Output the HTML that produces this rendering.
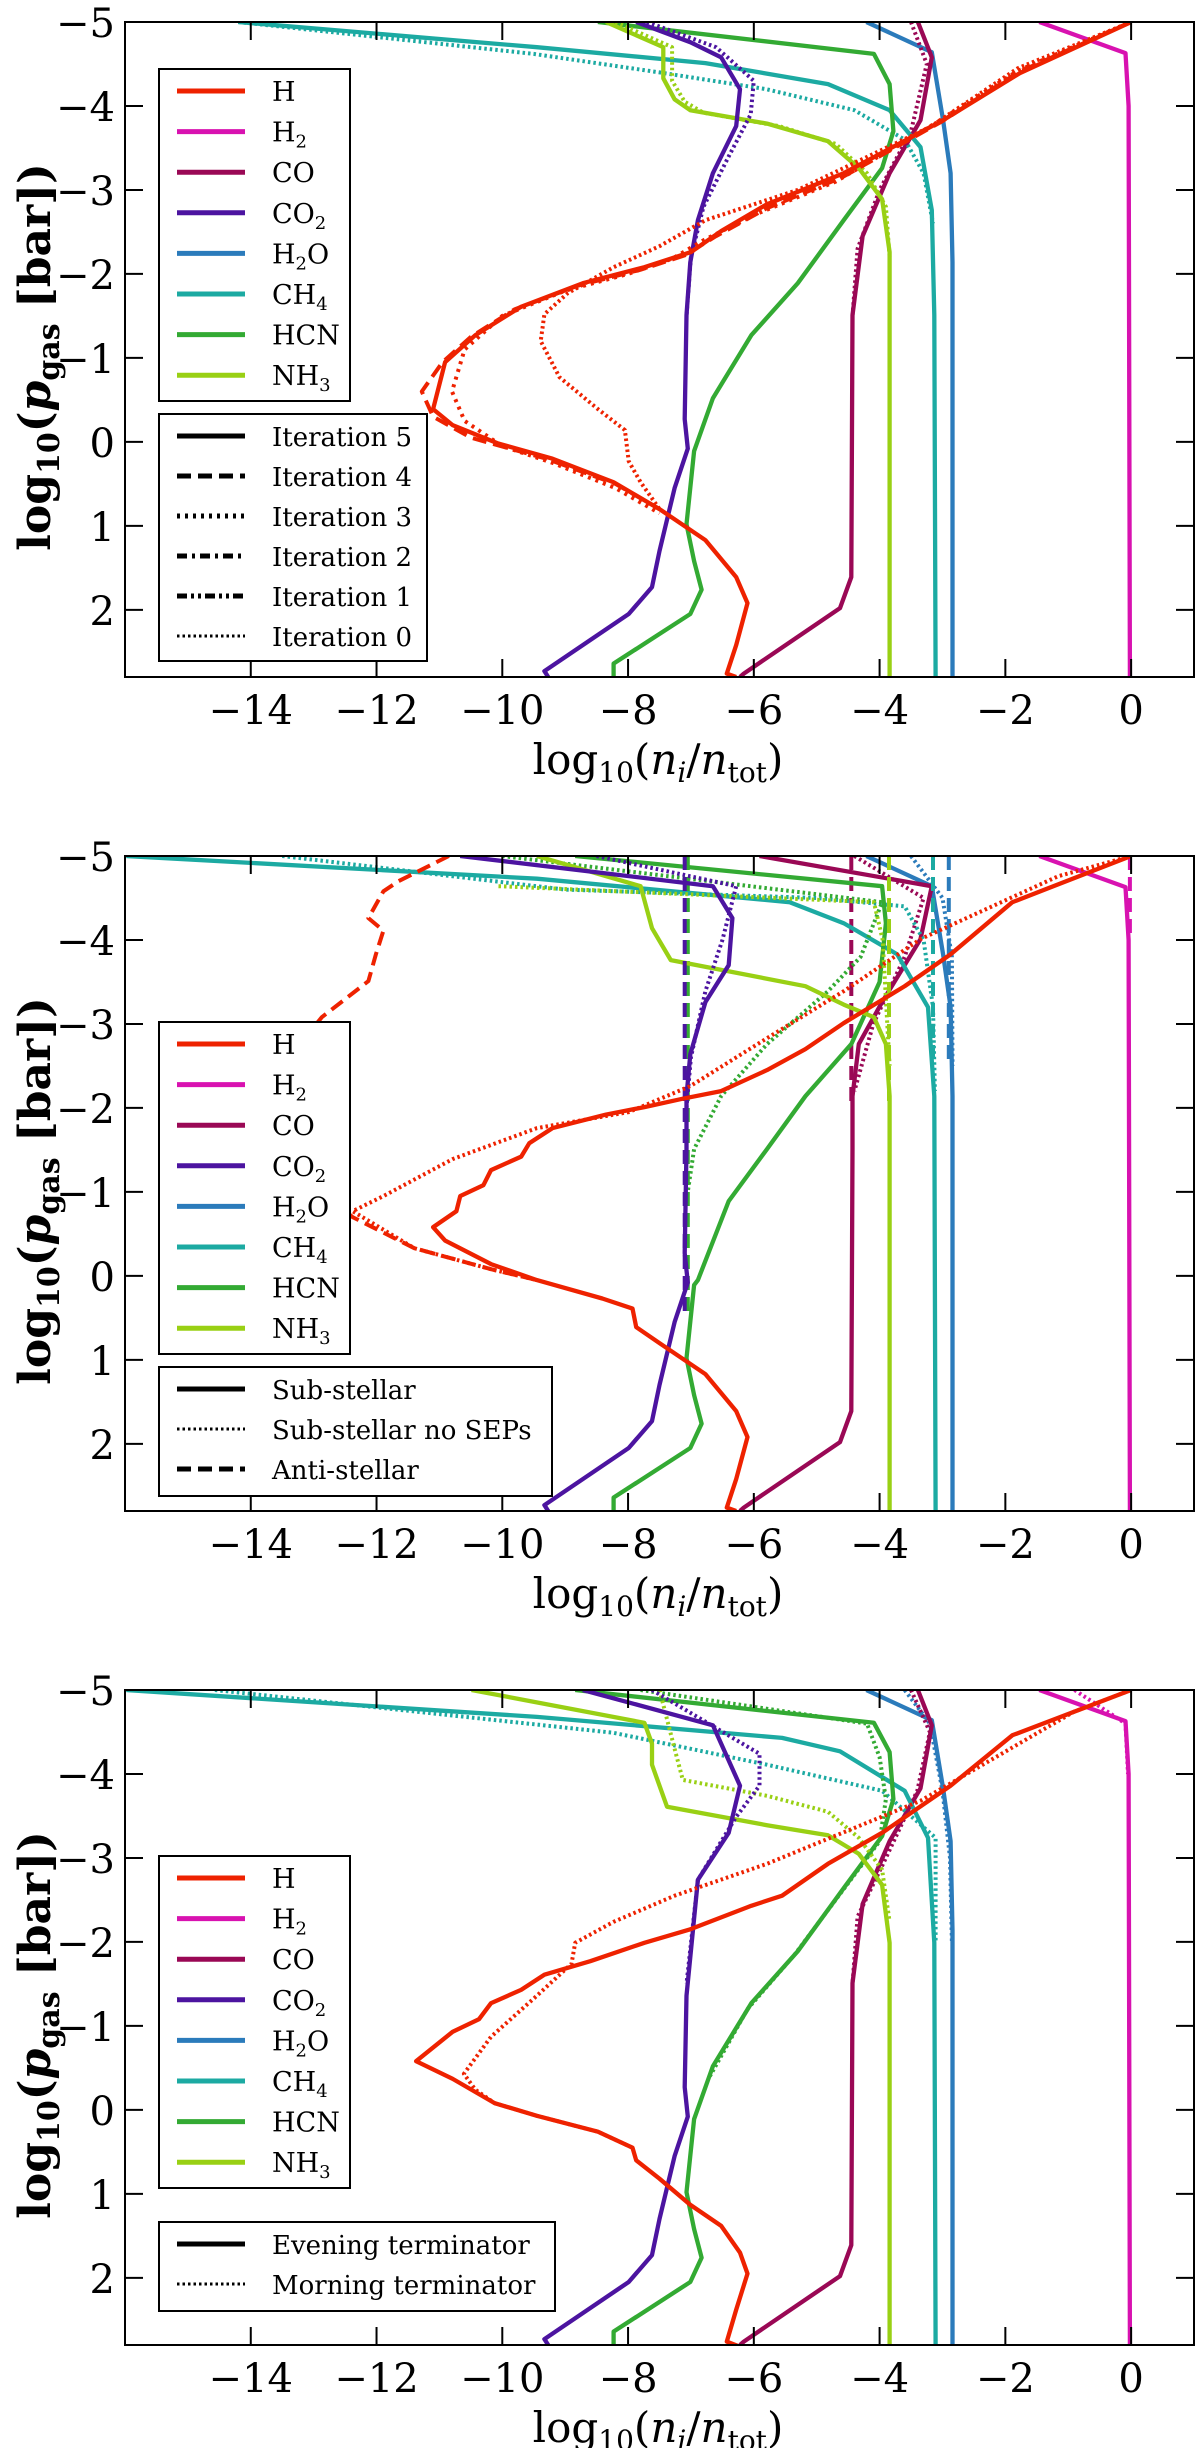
<!DOCTYPE html>
<html><head><meta charset="utf-8">
<style>
html,body{margin:0;padding:0;background:#fff;}
svg{display:block;}
text{font-family:"DejaVu Serif","Liberation Serif",serif;fill:#000;}
</style></head>
<body>
<svg id="fig" width="1200" height="2448" viewBox="0 0 1200 2448" xmlns="http://www.w3.org/2000/svg"></svg>
<script>
// ---------- data (x = log10(n_i/n_tot), y = log10(p_gas)) ----------
const xTicks = [-14,-12,-10,-8,-6,-4,-2,0];
const yTicks = [-5,-4,-3,-2,-1,0,1,2];
const species = ["H","H2","CO","CO2","H2O","CH4","HCN","NH3"];

// shared lower-atmosphere profiles
const H_low = [[-7.5,0.8],[-6.77,1.17],[-6.28,1.61],[-6.1,1.92],[-6.28,2.42],[-6.43,2.76],[-6.28,2.8]];
const CO_low = [[-4.43,-1.51],[-4.45,1.61],[-4.63,1.98],[-6.16,2.76],[-6.22,2.8]];
const CO2_low = [[-7.07,-1.51],[-7.1,-0.27],[-7.05,0.08],[-7.26,0.55],[-7.5,1.3],[-7.62,1.73],[-7.99,2.05],[-9.33,2.73],[-9.27,2.8]];
const HCN_low = [[-6.95,0.11],[-7.07,0.98],[-6.95,1.42],[-6.83,1.76],[-7.01,2.05],[-8.23,2.64],[-8.23,2.8]];
const H2 = [[-1.46,-5],[-0.09,-4.63],[-0.04,-4.0],[-0.02,2.8]];
const H2O = [[-4.21,-5],[-3.17,-4.64],[-2.99,-3.83],[-2.87,-3.2],[-2.84,-2.14],[-2.84,2.8]];

// Panel 1: iterations
const p1_H_it5 = [[0,-5],[-1.77,-4.39],[-2.99,-3.83],[-4.57,-3.2],[-5.79,-2.83],[-6.52,-2.51],[-7.0,-2.26],[-7.74,-2.08],[-8.72,-1.89],[-9.7,-1.61],[-10.43,-1.27],[-10.91,-0.95],[-11.1,-0.39],[-10.79,-0.2],[-10.06,0.02],[-9.2,0.2],[-8.23,0.48]].concat(H_low);
const p1_H_it4 = [[0,-5],[-1.8,-4.4],[-3.0,-3.82],[-4.6,-3.15],[-5.8,-2.78],[-6.6,-2.45],[-7.1,-2.22],[-7.8,-2.05],[-8.8,-1.86],[-9.8,-1.58],[-10.5,-1.25],[-10.95,-0.95],[-11.28,-0.6],[-11.1,-0.3],[-10.5,-0.05],[-9.3,0.2],[-8.2,0.5],[-7.5,0.8]];
const p1_H_it3 = [[0,-5],[-1.8,-4.42],[-3.1,-3.8],[-4.7,-3.1],[-6.0,-2.7],[-6.8,-2.4],[-7.3,-2.18],[-8.0,-2.0],[-9.0,-1.8],[-10.0,-1.5],[-10.6,-1.1],[-10.8,-0.6],[-10.6,-0.25],[-10.0,0.05],[-9.2,0.25],[-8.2,0.55],[-7.5,0.85]];
const p1_H_it0 = [[0,-5],[-1.8,-4.45],[-3.2,-3.75],[-5.3,-3.0],[-6.77,-2.64],[-7.5,-2.33],[-8.23,-2.08],[-8.96,-1.77],[-9.33,-1.52],[-9.39,-1.2],[-9.09,-0.77],[-8.48,-0.39],[-8.05,-0.14],[-7.99,0.23],[-7.8,0.48],[-7.5,0.8]];
const p1_CO = [[-3.39,-5],[-3.17,-4.58],[-3.35,-3.83],[-3.84,-3.2],[-4.27,-2.45]].concat(CO_low);
const p1_CO_it0 = [[-3.5,-5],[-3.25,-4.5],[-3.5,-3.7],[-4.0,-3.0],[-4.35,-2.3],[-4.43,-1.5]];
const p1_CO2 = [[-7.87,-5],[-7.01,-4.76],[-6.52,-4.58],[-6.22,-4.2],[-6.28,-3.76],[-6.65,-3.2],[-6.89,-2.64],[-7.01,-2.14]].concat(CO2_low);
const p1_CO2_it0 = [[-7.7,-5],[-6.6,-4.7],[-6.0,-4.3],[-6.05,-3.9],[-6.4,-3.4],[-6.8,-2.8],[-7.0,-2.2],[-7.07,-1.5]];
const p1_CH4 = [[-14.2,-5],[-9.45,-4.7],[-6.77,-4.51],[-4.82,-4.26],[-3.84,-3.95],[-3.35,-3.51],[-3.17,-2.76],[-3.13,-1.51],[-3.11,2.8]];
const p1_CH4_it0 = [[-14.2,-5],[-9.5,-4.62],[-7.5,-4.4],[-5.8,-4.2],[-4.4,-3.95],[-3.6,-3.6],[-3.3,-3.2],[-3.15,-2.6]];
const p1_HCN = [[-8.48,-5],[-4.09,-4.62],[-3.84,-4.26],[-3.78,-3.7],[-3.96,-3.26],[-4.57,-2.64],[-5.3,-1.89],[-6.04,-1.27],[-6.65,-0.52]].concat(HCN_low);
const p1_NH3 = [[-8.35,-5],[-7.44,-4.7],[-7.44,-4.33],[-7.26,-4.08],[-7.01,-3.95],[-5.79,-3.79],[-4.82,-3.58],[-4.33,-3.26],[-3.96,-2.89],[-3.84,-2.26],[-3.84,2.8]];
const p1_NH3_it0 = [[-8.2,-5],[-7.3,-4.7],[-7.3,-4.3],[-7.1,-4.05],[-6.8,-3.92],[-5.6,-3.76],[-4.7,-3.55],[-4.2,-3.2],[-3.9,-2.8],[-3.84,-2.2]];

// Panel 2: sub-stellar / no SEPs / anti-stellar
const p2_H_sub = [[0,-5],[-1.89,-4.45],[-2.87,-3.83],[-3.6,-3.45],[-4.57,-3.01],[-5.18,-2.7],[-5.79,-2.45],[-6.52,-2.2],[-7.13,-2.11],[-7.74,-2.01],[-8.35,-1.92],[-9.2,-1.76],[-9.57,-1.58],[-9.7,-1.42],[-10.18,-1.26],[-10.3,-1.08],[-10.67,-0.95],[-10.73,-0.77],[-11.1,-0.58],[-10.91,-0.42],[-10.18,-0.14],[-9.45,0.05],[-8.41,0.27],[-7.93,0.39],[-7.87,0.61]].concat(H_low);
const p2_H_nosep = [[0,-5],[-1.16,-4.76],[-3.35,-4.01],[-4.57,-3.39],[-5.79,-2.83],[-7.01,-2.26],[-7.99,-1.95],[-9.45,-1.76],[-10.79,-1.39],[-11.89,-0.95],[-12.38,-0.77],[-11.4,-0.33],[-10.18,-0.08],[-9.45,0.05]];
const p2_H_anti = [[-10.85,-5],[-11.65,-4.7],[-11.89,-4.58],[-12.13,-4.26],[-11.89,-4.11],[-12.01,-3.83],[-12.13,-3.51],[-12.87,-3.08],[-13.5,-2.5],[-13.8,-1.8],[-13.2,-1.2],[-12.38,-0.7],[-11.4,-0.33],[-10.18,-0.08],[-9.45,0.05]];
const p2_CO = [[-5.91,-5],[-3.17,-4.64],[-3.35,-4.01],[-3.96,-3.26],[-4.33,-2.76],[-4.43,-2.14]].concat(CO_low);
const p2_CO_nosep = [[-4.4,-5],[-3.3,-4.5],[-3.6,-3.8],[-4.1,-3.0],[-4.4,-2.2]];
const p2_CO_anti = [[-4.45,-5],[-4.45,-2.0]];
const p2_CO2 = [[-10.67,-5],[-6.65,-4.64],[-6.34,-4.26],[-6.4,-3.7],[-6.77,-3.26],[-7.01,-2.64],[-7.07,-2.14]].concat(CO2_low);
const p2_CO2_nosep = [[-8.5,-5],[-6.28,-4.64],[-6.5,-4.0],[-6.77,-3.39],[-7.0,-2.6],[-7.07,-2.0]];
const p2_CO2_anti = [[-7.1,-5],[-7.1,0.5]];
const p2_H2O_nosep = [[-3.5,-5],[-3.0,-4.5],[-2.85,-3.8],[-2.84,-2.5]];
const p2_H2O_anti = [[-2.9,-5],[-2.9,-2.5]];
const p2_CH4 = [[-15.98,-5],[-9.45,-4.73],[-5.43,-4.45],[-4.57,-4.2],[-3.72,-3.83],[-3.23,-3.2],[-3.13,-2.14],[-3.11,2.8]];
const p2_CH4_nosep = [[-13.5,-5],[-9.0,-4.6],[-5.0,-4.5],[-3.6,-4.4],[-3.3,-4.0],[-3.15,-3.2],[-3.12,-2.2]];
const p2_CH4_anti = [[-3.15,-5],[-3.15,-2.5]];
const p2_HCN = [[-8.84,-5],[-3.96,-4.64],[-3.9,-4.2],[-4.0,-3.5],[-4.45,-2.76],[-5.18,-2.14],[-5.79,-1.51],[-6.4,-0.89],[-6.89,0.05]].concat(HCN_low);
const p2_HCN_nosep = [[-10.0,-5],[-3.96,-4.45],[-4.3,-3.8],[-4.82,-3.39],[-5.79,-2.76],[-6.52,-2.14],[-6.95,-1.51],[-7.07,-0.9]];
const p2_HCN_anti = [[-7.05,-5],[-7.05,0.5]];
const p2_NH3 = [[-9.45,-5],[-7.8,-4.64],[-7.62,-4.14],[-7.32,-3.76],[-5.18,-3.45],[-4.57,-3.23],[-4.09,-3.08],[-3.9,-2.76],[-3.84,-2.14],[-3.84,2.8]];
const p2_NH3_nosep = [[-10.06,-4.64],[-4.09,-4.45],[-3.95,-4.0],[-3.9,-3.3],[-3.84,-2.5]];
const p2_NH3_anti = [[-3.85,-5],[-3.85,-2.0]];
const p2_H2_anti = [[-0.02,-5],[-0.02,-4.0]];

// Panel 3: evening / morning terminator
const p3_H_eve = [[0,-5],[-1.89,-4.46],[-2.87,-3.86],[-3.96,-3.3],[-4.82,-2.93],[-5.55,-2.55],[-6.04,-2.43],[-7.01,-2.15],[-7.74,-1.99],[-8.6,-1.77],[-9.33,-1.61],[-9.7,-1.43],[-10.18,-1.27],[-10.37,-1.08],[-10.79,-0.93],[-11.37,-0.58],[-10.79,-0.37],[-10.12,-0.08],[-9.45,0.07],[-8.48,0.26],[-7.93,0.45],[-7.87,0.6],[-7.5,0.82],[-7.01,1.13],[-6.52,1.38],[-6.22,1.7],[-6.1,1.95],[-6.28,2.38],[-6.43,2.76],[-6.22,2.82]];
const p3_H_morn = [[0,-5],[-0.91,-4.74],[-3.35,-3.68],[-5.79,-2.93],[-7.26,-2.55],[-8.23,-2.24],[-8.84,-1.99],[-8.9,-1.74],[-9.45,-1.36],[-10.18,-0.87],[-10.61,-0.43],[-10.43,-0.24],[-10.12,-0.08],[-9.45,0.07],[-8.48,0.26],[-7.93,0.45]];
const p3_H2_morn = [[-0.9,-5],[-0.09,-4.6],[-0.05,-4.0]];
const p3_CO = [[-3.39,-5],[-3.17,-4.58],[-3.35,-3.83],[-3.84,-3.2],[-4.27,-2.45]].concat(CO_low);
const p3_CO_morn = [[-3.5,-5],[-3.2,-4.5],[-3.4,-3.8],[-3.9,-3.0],[-4.35,-2.3],[-4.43,-1.5]];
const p3_CO2 = [[-8.72,-5],[-6.65,-4.58],[-6.22,-3.86],[-6.4,-3.3],[-6.89,-2.74],[-7.07,-1.36]].concat(CO2_low.slice(1));
const p3_CO2_morn = [[-7.62,-5],[-5.91,-4.24],[-5.91,-3.86],[-6.28,-3.49],[-6.89,-2.74],[-7.07,-1.5]];
const p3_H2O_morn = [[-3.6,-5],[-3.2,-4.6],[-3.0,-3.8],[-2.88,-3.0],[-2.85,-2.0]];
const p3_CH4 = [[-15.98,-5],[-9.45,-4.68],[-5.55,-4.43],[-4.63,-4.27],[-3.6,-3.8],[-3.23,-3.24],[-3.13,-1.99],[-3.11,2.8]];
const p3_CH4_morn = [[-14.57,-5],[-8.23,-4.49],[-5.79,-4.11],[-3.96,-3.8],[-3.11,-3.24],[-3.11,-2.0]];
const p3_HCN = [[-8.84,-5],[-4.09,-4.61],[-3.84,-4.26],[-3.78,-3.7],[-3.96,-3.26],[-4.57,-2.64],[-5.3,-1.89],[-6.04,-1.27],[-6.65,-0.52]].concat(HCN_low);
const p3_HCN_morn = [[-7.8,-5],[-4.2,-4.6],[-4.0,-4.2],[-3.9,-3.7],[-4.0,-3.2],[-4.6,-2.6],[-5.35,-1.85],[-6.1,-1.2],[-6.7,-0.4]];
const p3_NH3 = [[-10.49,-5],[-7.74,-4.61],[-7.62,-4.36],[-7.62,-4.11],[-7.38,-3.61],[-5.79,-3.39],[-4.82,-3.27],[-4.33,-3.05],[-3.96,-2.68],[-3.84,-1.99],[-3.84,2.8]];
const p3_NH3_morn = [[-7.5,-5],[-7.26,-4.3],[-7.13,-3.93],[-5.79,-3.74],[-4.82,-3.55],[-4.33,-3.24],[-3.96,-2.86],[-3.84,-2.24]];

// ---------- rendering ----------
const NS = "http://www.w3.org/2000/svg";
const svg = document.getElementById("fig");
const COL = {H:"#ee2200",H2:"#d812b0",CO:"#9a0855",CO2:"#4c14a0",H2O:"#2b7bbb",CH4:"#1caaa2",HCN:"#33aa33",NH3:"#99d014"};
const DASH = {solid:"", dashed:"14,7", dotted:"3,5", dashdot:"10,5,3,5", dashdotdot:"10,4,3,4,3,4", fine:"2.5,3"};
const PL = 125, PW = 1069, PH = 655;
const tops = [22, 856, 1690];
function mk(tag, attrs, parent){
  const e = document.createElementNS(NS, tag);
  for (const k in attrs) e.setAttribute(k, attrs[k]);
  (parent||svg).appendChild(e);
  return e;
}
function xs(v){ return PL + (v + 16) * PW / 17; }
function ys(v, top){ return top + (v + 5) * PH / 7.8; }

function drawPanel(pi, series, leg2){
  const top = tops[pi];
  const g = mk("g", {});
  
  
  const cp = mk("clipPath", {id:"clip"+pi}, g);
  mk("rect", {x:PL, y:top, width:PW, height:PH}, cp);
  const lines = mk("g", {"clip-path":"url(#clip"+pi+")"}, g);
  for (const s of series){
    const d = s.pts.map((p,i)=>(i?"L":"M")+xs(p[0]).toFixed(1)+","+ys(p[1],top).toFixed(1)).join("");
    const path = mk("path", {d:d, fill:"none", stroke:COL[s.sp], "stroke-width":s.st==="solid"?4.3:4, "stroke-dasharray":DASH[s.st]||"", "stroke-linejoin":"round"}, lines);
    
    
  }
  const fr = mk("rect", {x:PL, y:top, width:PW, height:PH, fill:"none", stroke:"#000", "stroke-width":2}, g);
  
  
  for (const t of xTicks){
    const x = xs(t);
    mk("line", {x1:x, x2:x, y1:top+PH, y2:top+PH-18, stroke:"#000", "stroke-width":2}, g);
    mk("line", {x1:x, x2:x, y1:top, y2:top+18, stroke:"#000", "stroke-width":2}, g);
    const tl = mk("text", {x:x, y:top+702, "text-anchor":"middle", "font-size":40}, g);
    tl.textContent = (t<0?"\u2212":"") + Math.abs(t);
    
    
  }
  for (const t of yTicks){
    const y = ys(t, top);
    mk("line", {x1:PL, x2:PL+18, y1:y, y2:y, stroke:"#000", "stroke-width":2}, g);
    mk("line", {x1:PL+PW, x2:PL+PW-18, y1:y, y2:y, stroke:"#000", "stroke-width":2}, g);
    const tl = mk("text", {x:115, y:y+15, "text-anchor":"end", "font-size":40}, g);
    tl.textContent = (t<0?"\u2212":"") + Math.abs(t);
    
    
  }
  const xl = mk("text", {x:658, y:top+752, "text-anchor":"middle", "font-size":42}, g);
  xl.innerHTML = 'log<tspan font-size="28" dy="8">10</tspan><tspan dy="-8">(</tspan><tspan font-style="italic">n</tspan><tspan font-style="italic" font-size="28" dy="8">i</tspan><tspan dy="-8">/</tspan><tspan font-style="italic">n</tspan><tspan font-size="28" dy="8">tot</tspan><tspan dy="-8">)</tspan>';
  
  
  const yl = mk("text", {x:0, y:0, "text-anchor":"middle", "font-size":44, "font-weight":"bold", transform:"translate(50,"+(top+335)+") rotate(-90)"}, g);
  yl.innerHTML = 'log<tspan font-size="30" dy="9">10</tspan><tspan dy="-9">(</tspan><tspan font-style="italic">p</tspan><tspan font-size="30" dy="9">gas</tspan><tspan dy="-9"> [bar])</tspan>';
  
  
  const l1top = top + (pi===0 ? 47 : 166);
  const lg1 = mk("g", {}, g);
  
  
  mk("rect", {x:159, y:l1top, width:191, height:332, fill:"#fff", stroke:"#000", "stroke-width":2}, lg1);
  const labels = {H:'H',H2:'H<tspan font-size="18" dy="6">2</tspan>',CO:'CO',CO2:'CO<tspan font-size="18" dy="6">2</tspan>',H2O:'H<tspan font-size="18" dy="6">2</tspan><tspan dy="-6">O</tspan>',CH4:'CH<tspan font-size="18" dy="6">4</tspan>',HCN:'HCN',NH3:'NH<tspan font-size="18" dy="6">3</tspan>'};
  species.forEach((sp,i)=>{
    const y = l1top + 22 + i*40.6;
    mk("line", {x1:177, x2:245, y1:y, y2:y, stroke:COL[sp], "stroke-width":5}, lg1);
    const t = mk("text", {x:272, y:y+10, "font-size":27}, lg1);
    t.innerHTML = labels[sp];
    
    
  });
  const lg2 = mk("g", {}, g);
  
  
  mk("rect", {x:159, y:top+leg2.top, width:leg2.w, height:leg2.h, fill:"#fff", stroke:"#000", "stroke-width":2}, lg2);
  leg2.items.forEach((it,i)=>{
    const y = top + leg2.top + 22 + i*40;
    mk("line", {x1:177, x2:245, y1:y, y2:y, stroke:"#000", "stroke-width":it[1]==="fine"?3:5, "stroke-dasharray":DASH[it[1]]}, lg2);
    const t = mk("text", {x:272, y:y+10, "font-size":26}, lg2);
    t.textContent = it[0];
    
    
  });
}

drawPanel(0, [
  {sp:"H2", pts:H2, st:"solid"},
  {sp:"H2O", pts:H2O, st:"solid"},
  {sp:"CO", pts:p1_CO, st:"solid"},{sp:"CO", pts:p1_CO_it0, st:"fine"},
  {sp:"CH4", pts:p1_CH4, st:"solid"},{sp:"CH4", pts:p1_CH4_it0, st:"fine"},
  {sp:"HCN", pts:p1_HCN, st:"solid"},
  {sp:"NH3", pts:p1_NH3, st:"solid"},{sp:"NH3", pts:p1_NH3_it0, st:"fine"},
  {sp:"CO2", pts:p1_CO2, st:"solid"},{sp:"CO2", pts:p1_CO2_it0, st:"fine"},
  {sp:"H", pts:p1_H_it0, st:"fine"},
  {sp:"H", pts:p1_H_it3, st:"dotted"},
  {sp:"H", pts:p1_H_it4, st:"dashed"},
  {sp:"H", pts:p1_H_it5, st:"solid"}
], {top:392, w:268, h:247, items:[["Iteration 5","solid"],["Iteration 4","dashed"],["Iteration 3","dotted"],["Iteration 2","dashdot"],["Iteration 1","dashdotdot"],["Iteration 0","fine"]]});

drawPanel(1, [
  {sp:"H2", pts:H2, st:"solid"},{sp:"H2", pts:p2_H2_anti, st:"dashed"},
  {sp:"H2O", pts:H2O, st:"solid"},{sp:"H2O", pts:p2_H2O_nosep, st:"fine"},{sp:"H2O", pts:p2_H2O_anti, st:"dashed"},
  {sp:"CO", pts:p2_CO, st:"solid"},{sp:"CO", pts:p2_CO_nosep, st:"fine"},{sp:"CO", pts:p2_CO_anti, st:"dashed"},
  {sp:"CH4", pts:p2_CH4, st:"solid"},{sp:"CH4", pts:p2_CH4_nosep, st:"fine"},{sp:"CH4", pts:p2_CH4_anti, st:"dashed"},
  {sp:"HCN", pts:p2_HCN, st:"solid"},{sp:"HCN", pts:p2_HCN_nosep, st:"fine"},{sp:"HCN", pts:p2_HCN_anti, st:"dashed"},
  {sp:"NH3", pts:p2_NH3, st:"solid"},{sp:"NH3", pts:p2_NH3_nosep, st:"fine"},{sp:"NH3", pts:p2_NH3_anti, st:"dashed"},
  {sp:"CO2", pts:p2_CO2, st:"solid"},{sp:"CO2", pts:p2_CO2_nosep, st:"fine"},{sp:"CO2", pts:p2_CO2_anti, st:"dashed"},
  {sp:"H", pts:p2_H_nosep, st:"fine"},
  {sp:"H", pts:p2_H_anti, st:"dashed"},
  {sp:"H", pts:p2_H_sub, st:"solid"}
], {top:511, w:393, h:129, items:[["Sub-stellar","solid"],["Sub-stellar no SEPs","fine"],["Anti-stellar","dashed"]]});

drawPanel(2, [
  {sp:"H2", pts:H2, st:"solid"},{sp:"H2", pts:p3_H2_morn, st:"fine"},
  {sp:"H2O", pts:H2O, st:"solid"},{sp:"H2O", pts:p3_H2O_morn, st:"fine"},
  {sp:"CO", pts:p3_CO, st:"solid"},{sp:"CO", pts:p3_CO_morn, st:"fine"},
  {sp:"CH4", pts:p3_CH4, st:"solid"},{sp:"CH4", pts:p3_CH4_morn, st:"fine"},
  {sp:"HCN", pts:p3_HCN, st:"solid"},{sp:"HCN", pts:p3_HCN_morn, st:"fine"},
  {sp:"NH3", pts:p3_NH3, st:"solid"},{sp:"NH3", pts:p3_NH3_morn, st:"fine"},
  {sp:"CO2", pts:p3_CO2, st:"solid"},{sp:"CO2", pts:p3_CO2_morn, st:"fine"},
  {sp:"H", pts:p3_H_morn, st:"fine"},
  {sp:"H", pts:p3_H_eve, st:"solid"}
], {top:532, w:396, h:89, items:[["Evening terminator","solid"],["Morning terminator","fine"]]});
</script>
</body></html>
